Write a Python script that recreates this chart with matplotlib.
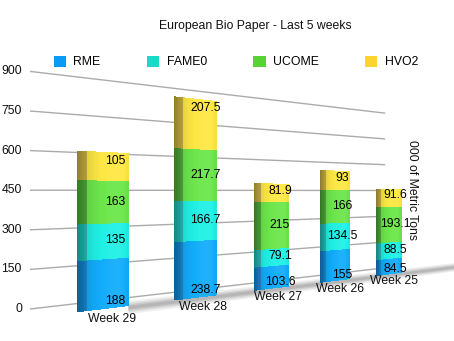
import numpy as np
import matplotlib
matplotlib.use("Agg")
import matplotlib.pyplot as plt
from matplotlib.transforms import Transform, offset_copy
from matplotlib.patches import Patch
from matplotlib.colors import to_rgb

# ---------------- data ----------------
weeks = ["Week 29", "Week 28", "Week 27", "Week 26", "Week 25"]
series_names = ["RME", "FAME0", "UCOME", "HVO2"]
rme = [188, 238.7, 103.6, 155, 84.5]
fame0 = [135, 166.7, 79.1, 134.5, 88.5]
ucome = [163, 217.7, 215, 166, 193.1]
hvo2 = [105, 207.5, 81.9, 93, 91.6]
yticks = [0, 150, 300, 450, 600, 750, 900]
title = "European Bio Paper - Last 5 weeks"
ylabel = "000 of Metric Tons"

# ---------------- style ----------------
front_colors = ["#12acfb", "#20f0e4", "#6ce64b", "#fde744"]
side_colors = ["#0c6fae", "#169d98", "#3d8b2c", "#a89232"]
legend_colors = ["#0a9cf5", "#19dac9", "#55d434", "#fdd32e"]
FONT = "Liberation Sans"
FS = 8.8


class PlaneProjection(Transform):
    """Perspective view of a plane that recedes towards a vanishing point."""
    input_dims = 2
    output_dims = 2
    is_separable = False

    def __init__(self, x0, y0, scale, vx, vy, k):
        super().__init__()
        self.x0, self.y0, self.s = x0, y0, scale
        self.vx, self.vy, self.k = vx, vy, k

    def transform_non_affine(self, values):
        pts = np.asarray(values, dtype=float).reshape(-1, 2)
        u, v = pts[:, 0], pts[:, 1]
        d = 1.0 + self.k * u
        x = self.vx - (self.vx - self.x0) / d
        y = self.vy + ((self.y0 - self.s * v) - self.vy) / d
        return np.column_stack([x, y])

    def inverted(self):
        outer = self

        class _Inv(Transform):
            input_dims = 2
            output_dims = 2
            is_separable = False

            def transform_non_affine(self, values):
                pts = np.asarray(values, dtype=float).reshape(-1, 2)
                x, y = pts[:, 0], pts[:, 1]
                d = (outer.vx - outer.x0) / (outer.vx - x)
                u = (d - 1.0) / outer.k
                yf = outer.vy + (y - outer.vy) * d
                v = (outer.y0 - yf) / outer.s
                return np.column_stack([u, v])

            def inverted(self):
                return outer

        return _Inv()


def shade(color, f):
    c = np.array(to_rgb(color))
    if f >= 1:
        return tuple(np.clip(c + (1 - c) * (f - 1), 0, 1))
    return tuple(c * f)


fig = plt.figure(figsize=(4.54, 3.41), dpi=100)
ax = fig.add_axes([0, 0, 1, 1])
ax.set_autoscale_on(False)
ax.set_xlim(0, 454)
ax.set_ylim(341, 0)
ax.axis("off")

bar_plane = PlaneProjection(108.5, 308, 0.263, 1047, 194, 0.108) + ax.transData
wall_plane = PlaneProjection(30, 309, 0.264, 1047, 191, 0.108) + ax.transData
wall_len = 4.97

# ---------------- back wall grid ----------------
for t in yticks:
    ax.plot([0, wall_len], [t, t], color="#ababab", lw=1.0,
            transform=wall_plane, zorder=1, solid_capstyle="butt")
    ax.text(0, t, str(t), transform=offset_copy(wall_plane, fig=fig, x=-8, y=0, units="dots"),
            ha="right", va="center", fontsize=FS, family=FONT, color="#111111")

# ---------------- floor shadow ----------------
for half, a in [(26, 0.08), (19, 0.10), (13, 0.12), (7, 0.14)]:
    ax.fill([0.2, 6.5, 6.5, 0.2], [-8 + half, -8 + half, -8 - half, -8 - half],
            color="#404040", alpha=a, lw=0, transform=bar_plane, zorder=2)

# ---------------- stacked bars ----------------
u = np.arange(len(weeks))
stack = [rme, fame0, ucome, hvo2]
front_w = 0.40
side_w = 0.10
n_front = 24
n_side = 6
front_t = (np.arange(n_front) + 0.5) / n_front
front_f = np.interp(front_t, [0, 0.15, 0.55, 0.8, 1.0], [0.90, 0.96, 1.04, 1.06, 0.96])
side_t = (np.arange(n_side) + 0.5) / n_side
side_f = np.interp(side_t, [0, 1], [0.85, 1.10])
bottom = np.zeros(len(weeks))
for si, vals in enumerate(stack):
    vals = np.asarray(vals, dtype=float)
    # base faces (antialiased outline), then smooth shading strips on top
    ax.bar(u - front_w / 2 - side_w / 2, vals, bottom=bottom, width=side_w,
           color=side_colors[si], lw=0, transform=bar_plane, zorder=3)
    ax.bar(u, vals, bottom=bottom, width=front_w,
           color=front_colors[si], lw=0, transform=bar_plane, zorder=3)
    sw = side_w / n_side
    for j, f in enumerate(side_f):
        ax.bar(u - front_w / 2 - side_w + sw * (j + 0.5), vals, bottom=bottom, width=sw,
               color=shade(side_colors[si], f), lw=0, antialiased=False,
               transform=bar_plane, zorder=3.1)
    fw = front_w / n_front
    for j, f in enumerate(front_f):
        ax.bar(u - front_w / 2 + fw * (j + 0.5), vals, bottom=bottom, width=fw,
               color=shade(front_colors[si], f), lw=0, antialiased=False,
               transform=bar_plane, zorder=3.1)
    bottom = bottom + vals

# ---------------- value labels ----------------
bottom = np.zeros(len(weeks))
for si, vals in enumerate(stack):
    for i, val in enumerate(vals):
        if si == 0:
            pos = bottom[i] + min(val / 2, 25)
        elif si == len(stack) - 1:
            pos = bottom[i] + val - min(val / 2, 32)
        else:
            pos = bottom[i] + val / 2
        ax.text(u[i] + 0.07, pos, f"{val:g}", transform=bar_plane,
                ha="center", va="center", fontsize=FS, family=FONT,
                color="#000000", zorder=5)
    bottom = bottom + np.asarray(vals, dtype=float)

# ---------------- category labels ----------------
for i, w in enumerate(weeks):
    ax.text(u[i] + 0.04, -44, w, transform=bar_plane, ha="center", va="center",
            fontsize=FS, family=FONT, color="#111111", zorder=5)

# ---------------- title, axis label, legend ----------------
ax.text(255, 26, title, ha="center", va="center", fontsize=FS, family=FONT, color="#111111")
ax.text(412, 190, ylabel, rotation=-90, ha="center", va="center",
        fontsize=FS, family=FONT, color="#111111")

handles = [Patch(facecolor=c, edgecolor="none", label=n) for c, n in zip(legend_colors, series_names)]
leg = ax.legend(handles=handles, loc="center", bbox_to_anchor=(236 / 454, 1 - 62 / 341),
                ncol=4, frameon=False, handlelength=1.0, handleheight=1.0,
                handletextpad=0.6, columnspacing=3.8,
                prop={"family": FONT, "size": FS})

fig.savefig("out.png", dpi=100)
